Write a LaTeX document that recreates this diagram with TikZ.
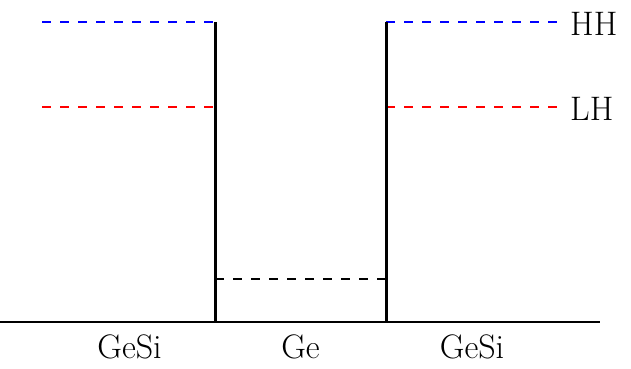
\documentclass[tikz,border=0pt]{standalone}
\usepackage{fontspec}
\begin{document}
\begin{tikzpicture}[x=1pt,y=-1pt,
  lvl/.style={line width=2.2pt,dash pattern=on 9pt off 9pt},
  wall/.style={line width=3pt},
  lbl/.style={inner sep=0pt,font=\fontsize{34}{40}\selectfont}]
\useasboundingbox (0,0) rectangle (631,368);
% coordinates
\coordinate (b0) at (0,322);
\coordinate (b1) at (600,322);
\coordinate (wLb) at (215,322);
\coordinate (wLt) at (215,22);
\coordinate (wRb) at (386,322);
\coordinate (wRt) at (386,22);
\coordinate (hhL) at (42,22);
\coordinate (hhR) at (558,22);
\coordinate (lhL) at (42,107);
\coordinate (lhLw) at (215,107);
\coordinate (lhRw) at (386,107);
\coordinate (lhR) at (558,107);
\coordinate (geL) at (215,279);
\coordinate (geR) at (386,279);
% levels
\draw[lvl,blue] (hhL) -- (wLt);
\draw[lvl,blue] (wRt) -- (hhR);
\draw[lvl,red] (lhL) -- (lhLw);
\draw[lvl,red] (lhRw) -- (lhR);
\draw[lvl,black] (geL) -- (geR);
% walls and axis
\draw[line width=1.3pt] (b0) -- (b1);
\draw[wall] (wLb) -- (wLt);
\draw[wall] (wRb) -- (wRt);
% labels
\node[lbl,anchor=base west] (hh) at (570,35) {HH};
\node[lbl,anchor=base west] (lh) at (570,120) {LH};
\node[lbl,anchor=base] (g1) at (129.5,358) {GeSi};
\node[lbl,anchor=base] (g2) at (300.5,358) {Ge};
\node[lbl,anchor=base] (g3) at (472,358) {GeSi};
\end{tikzpicture}
\end{document}
